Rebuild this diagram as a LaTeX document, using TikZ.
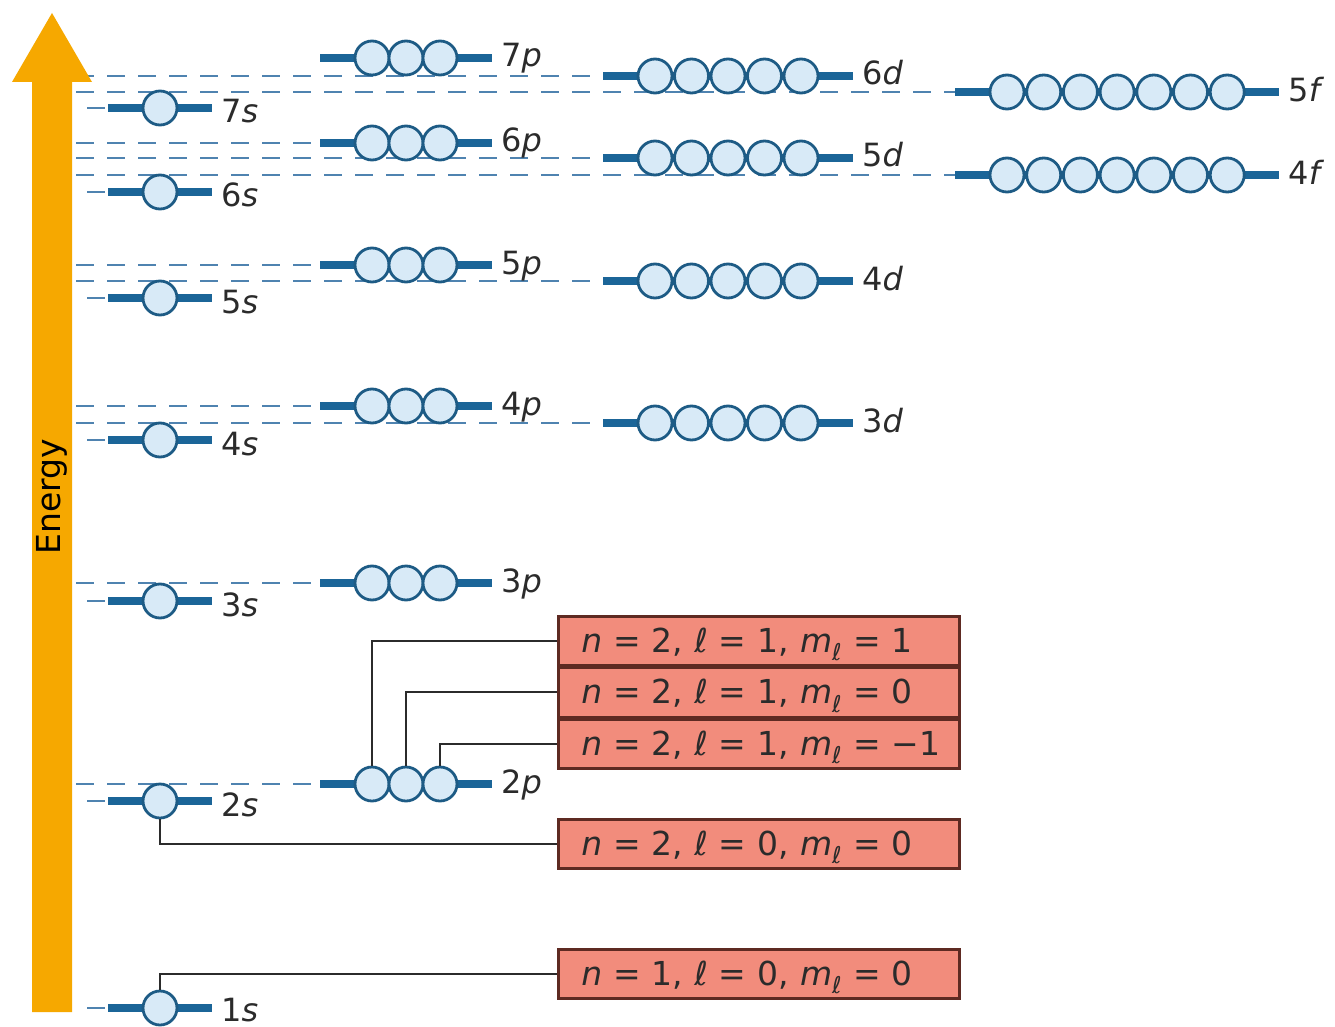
\documentclass[tikz,border=0pt]{standalone}
\usepackage{fontspec}
\setmainfont{DejaVu Sans}

\definecolor{arroworange}{HTML}{F6A800}
\definecolor{barblue}{HTML}{1B6598}
\definecolor{ringblue}{HTML}{1D5B85}
\definecolor{orbfill}{HTML}{D8EAF7}
\definecolor{guideblue}{HTML}{4F83B0}
\definecolor{boxfill}{HTML}{F28C7C}
\definecolor{boxedge}{HTML}{5E2A22}
\definecolor{inkgray}{HTML}{2B2B2B}

\tikzset{
  bar/.style={draw=barblue, line width=7.5pt},
  orb/.style={circle, draw=ringblue, fill=orbfill, line width=2.8pt,
              minimum size=34pt, inner sep=0pt},
  guide/.style={draw=guideblue, line width=2.2pt, dash pattern=on 18pt off 13pt},
  lbl/.style={anchor=base west, inner sep=0pt, text=inkgray,
              font=\fontsize{32}{38}\selectfont},
  qbox/.style={draw=boxedge, fill=boxfill, line width=2.5pt, anchor=north west,
               text width=355pt, align=left, inner xsep=23pt, inner ysep=0pt,
               minimum height=49pt, text height=23pt, text depth=0pt,
               font=\fontsize{33}{40}\selectfont, text=inkgray},
  link/.style={draw=inkgray, line width=2pt},
}

% quantum-number triple for the boxes, kept on one line
\newcommand\qn[3]{\mbox{\textit{n} = #1, \textit{ℓ} = #2, \textit{m}\textsubscript{\textit{ℓ}} = #3}}

% name / bar y / first orbital x / orbitals / spacing / label / label baseline offset / guide start
\def\levels{%
  p7/58/372/3/34/7\textit{p}/9/-100,
  d6/76/655/5/36.5/6\textit{d}/9/76,
  f5/92/1007/7/36.7/5\textit{f}/10/76,
  s7/108/160/1/0/7\textit{s}/15/87,
  p6/143/372/3/34/6\textit{p}/9/76,
  d5/158/655/5/36.5/5\textit{d}/9/76,
  f4/175/1007/7/36.7/4\textit{f}/10/76,
  s6/192/160/1/0/6\textit{s}/15/87,
  p5/265/372/3/34/5\textit{p}/9/76,
  d4/281/655/5/36.5/4\textit{d}/9/76,
  s5/298/160/1/0/5\textit{s}/15/87,
  p4/406/372/3/34/4\textit{p}/9/76,
  d3/423/655/5/36.5/3\textit{d}/9/76,
  s4/440/160/1/0/4\textit{s}/15/87,
  p3/583/372/3/34/3\textit{p}/9/76,
  s3/601/160/1/0/3\textit{s}/15/87,
  p2/784/372/3/34/2\textit{p}/9/76,
  s2/801/160/1/0/2\textit{s}/15/87,
  s1/1008/160/1/0/1\textit{s}/13/87}

\begin{document}
\begin{tikzpicture}[x=1pt, y=-1pt]
\useasboundingbox (0,0) rectangle (1335,1027);
\fill[white] (0,0) rectangle (1335,1027);

% dashed energy guides, running from the axis to each sublevel
\foreach \nm/\y/\x/\c/\sp/\lab/\off/\gs in \levels {
  \coordinate (\nm-w) at ({\x-52},\y);
  \ifdim \gs pt>0pt
    \coordinate (\nm-g) at (\gs,\y);
    \draw[guide] (\nm-g) -- (\nm-w);
  \fi
}

% energy axis
\fill[arroworange] (32,1012) -- (32,82) -- (12,82) -- (52,13) -- (92,82)
  -- (72,82) -- (72,1012) -- cycle;
\node[rotate=90, inner sep=0pt, text=black, font=\fontsize{33}{40}\selectfont]
  (energy) at (52,497) {Energy};

% sublevels: bar, orbitals and label
\foreach \nm/\y/\x/\c/\sp/\lab/\off/\gs in \levels {
  \draw[bar] (\nm-w) -- ++({(\c-1)*\sp+104},0);
  \foreach \k in {1,...,\c}
    \node[orb] (\nm-\k) at ({\x+(\k-1)*\sp},\y) {};
  \node[lbl] (\nm-lbl) at ({\x+(\c-1)*\sp+61},{\y+\off}) {\lab};
}

% quantum-number boxes
\node[qbox] (b1) at (557,615) {\qn{2}{1}{1}};
\node[qbox] (b2) at (b1.south west) {\qn{2}{1}{0}};
\node[qbox] (b3) at (b2.south west) {\qn{2}{1}{−1}};
\node[qbox] (b4) at (557,818) {\qn{2}{0}{0}};
\node[qbox] (b5) at (557,948) {\qn{1}{0}{0}};

% orbital-to-box connectors
\draw[link] (p2-1.north) |- (b1.west);
\draw[link] (p2-2.north) |- (b2.west);
\draw[link] (p2-3.north) |- (b3.west);
\draw[link] (s2-1.south) |- (b4.west);
\draw[link] (s1-1.north) |- (b5.west);
\end{tikzpicture}
\end{document}
